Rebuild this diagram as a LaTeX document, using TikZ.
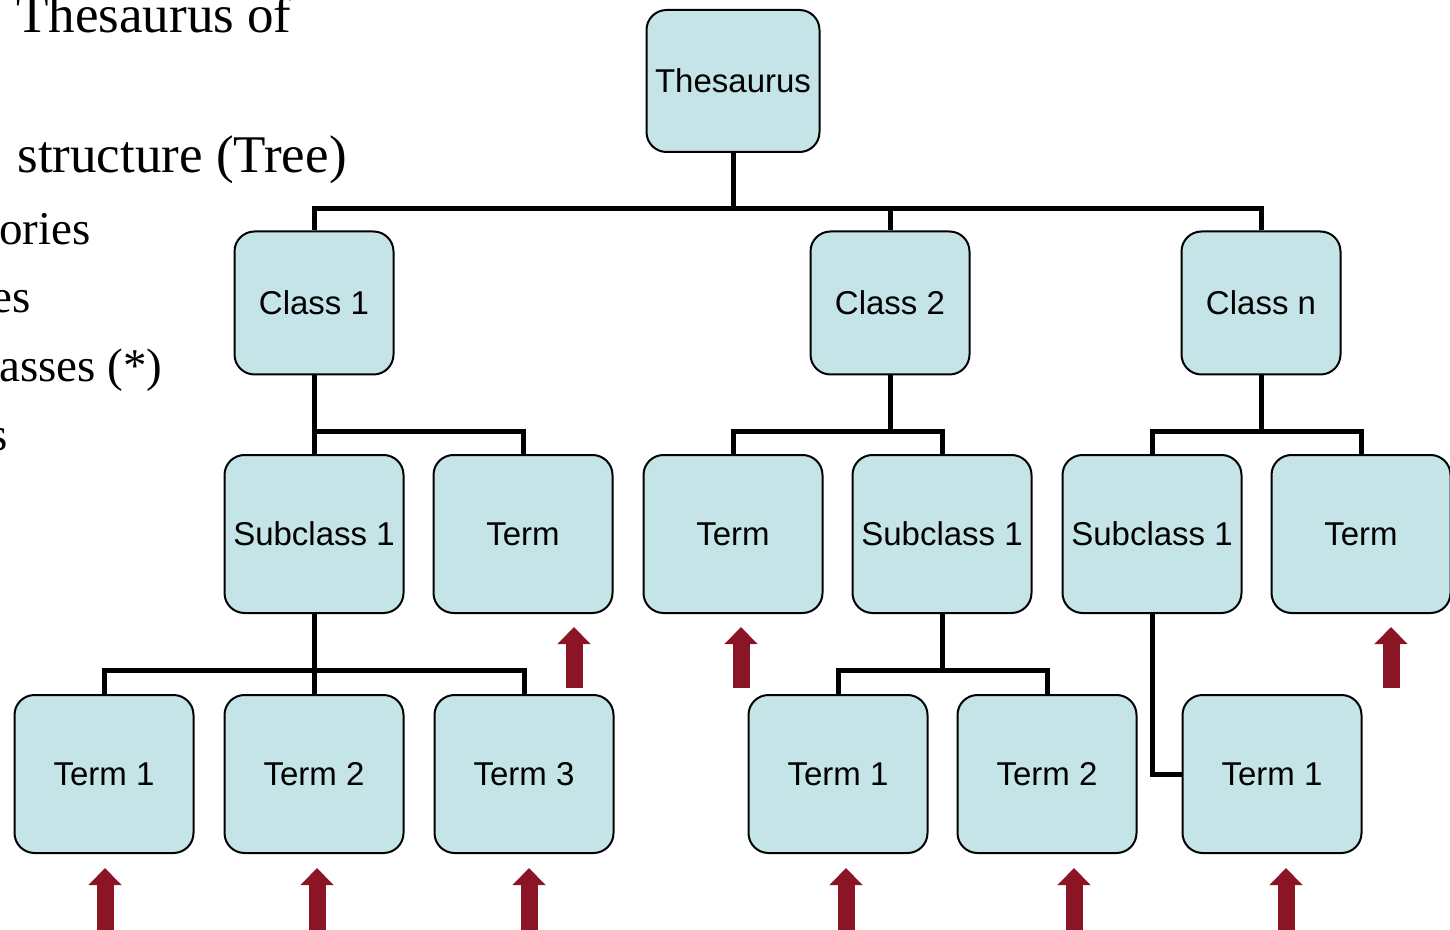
\documentclass[tikz,border=0pt]{standalone}
\usepackage{fontspec}
\setmainfont{Liberation Serif}
\newfontfamily\boxfont{Liberation Sans}
\usetikzlibrary{arrows.meta}

\definecolor{boxfill}{RGB}{197,228,231}
\definecolor{darkred}{RGB}{140,21,37}

\begin{document}
\begin{tikzpicture}[x=0.5pt, y=-0.5pt,
  box/.style={draw, line width=1pt, fill=boxfill, rounded corners=10pt, inner sep=0pt,
    font=\boxfont\fontsize{16.5}{19}\selectfont, minimum width=89.5pt, minimum height=79pt},
  rootbox/.style={box, minimum width=86.5pt, minimum height=71pt},
  classbox/.style={box, minimum width=79.5pt, minimum height=71.5pt},
  link/.style={line width=2.5pt},
  uparrow/.style={darkred, line width=8.5pt, -{Triangle[width=16pt, length=8.5pt]}},
  headline/.style={anchor=base east, inner sep=0pt, font=\fontsize{26.5}{30}\selectfont},
  subline/.style={anchor=base east, inner sep=0pt, font=\fontsize{23.5}{27}\selectfont}]
  \useasboundingbox (0,0) rectangle (1450,930);

  % text of the slide, cut at the left
  \node[headline] (title) at (292,33) {Thesaurus of};
  \node[headline] (tree) at (347,173) {structure (Tree)};
  \node[subline] (cat) at (91,245) {ories};
  \node[subline] (cls) at (31,313) {es};
  \node[subline] (sub) at (163,382) {asses (*)};
  \node[subline] (trm) at (8,450) {s};

  % the tree
  \node[rootbox] (root) at (733,81) {Thesaurus};

  \node[classbox] (c1) at (314,303) {Class 1};
  \node[classbox] (c2) at (890,303) {Class 2};
  \node[classbox] (cn) at (1261,303) {Class n};

  \node[box] (s1) at (314,534) {Subclass 1};
  \node[box] (t1) at (523,534) {Term};
  \node[box] (t2) at (733,534) {Term};
  \node[box] (s2) at (942,534) {Subclass 1};
  \node[box] (s3) at (1152,534) {Subclass 1};
  \node[box] (t3) at (1361,534) {Term};

  \node[box] (a1) at (104,774) {Term 1};
  \node[box] (a2) at (314,774) {Term 2};
  \node[box] (a3) at (524,774) {Term 3};
  \node[box] (b1) at (838,774) {Term 1};
  \node[box] (b2) at (1047,774) {Term 2};
  \node[box] (d1) at (1272,774) {Term 1};

  \foreach \c in {c1,c2,cn}
    \draw[link] (root.south) -- ++(0,56) -| (\c.north);
  \foreach \c in {s1,t1}
    \draw[link] (c1.south) -- ++(0,56) -| (\c.north);
  \foreach \c in {t2,s2}
    \draw[link] (c2.south) -- ++(0,56) -| (\c.north);
  \foreach \c in {s3,t3}
    \draw[link] (cn.south) -- ++(0,56) -| (\c.north);
  \foreach \c in {a1,a2,a3}
    \draw[link] (s1.south) -- ++(0,56) -| (\c.north);
  \foreach \c in {b1,b2}
    \draw[link] (s2.south) -- ++(0,56) -| (\c.north);
  \draw[link] (s3.south) |- (d1.west);

  % red arrows
  \foreach \x in {574,741,1391}
    \draw[uparrow] (\x,688) -- (\x,627);
  \foreach \x in {105,317,529,846,1074,1286}
    \draw[uparrow] (\x,935) -- (\x,868);
\end{tikzpicture}
\end{document}
